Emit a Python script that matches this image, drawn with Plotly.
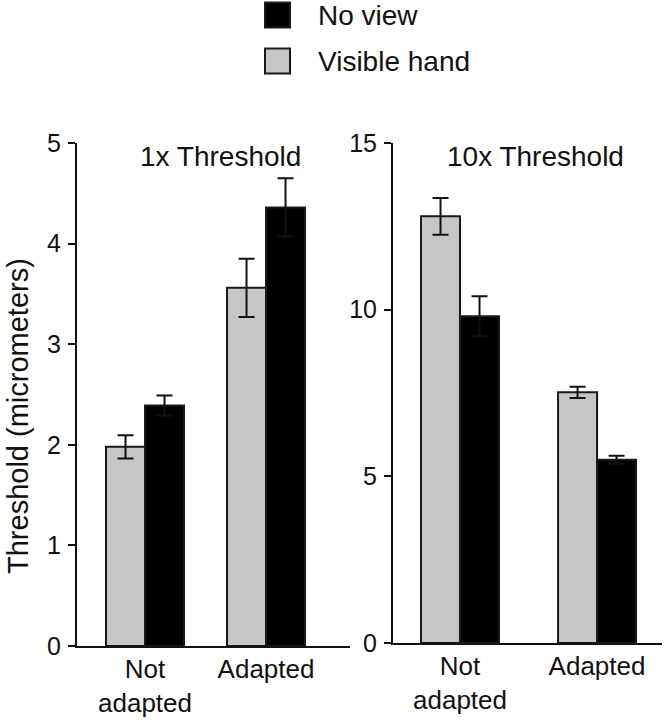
import plotly.graph_objects as go

categories = ["Not<br>adapted", "Adapted"]
x_pos = [0, 1]

# 1x threshold panel
vis_1x = [1.98, 3.56]
vis_1x_err = [0.115, 0.29]
nov_1x = [2.39, 4.36]
nov_1x_err = [0.10, 0.29]

# 10x threshold panel
vis_10x = [12.8, 7.52]
vis_10x_err = [0.55, 0.17]
nov_10x = [9.8, 5.5]
nov_10x_err = [0.6, 0.12]

series_names = ["No view", "Visible hand"]
gray = "#c6c6c6"
black = "#000000"
edge = "#1a1a1a"

W, H = 666, 720

def X(px):
    return px / W

def Y(py):
    return 1 - py / H

fig = go.Figure()

def bars(x, y, err, color, w, off, xa, ya, name):
    return go.Bar(
        x=x, y=y, width=[w]*len(x), offset=off, name=name,
        marker=dict(color=color, line=dict(color=edge, width=2)),
        error_y=dict(type="data", array=err, visible=True, color="#111111", thickness=2, width=8),
        xaxis=xa, yaxis=ya, showlegend=False,
    )

wl = 39 / 121
wr = 39 / 137
fig.add_trace(bars(x_pos, vis_1x, vis_1x_err, gray, wl, -wl, "x", "y", series_names[1]))
fig.add_trace(bars(x_pos, nov_1x, nov_1x_err, black, wl, 0, "x", "y", series_names[0]))
fig.add_trace(bars(x_pos, vis_10x, vis_10x_err, gray, wr, -wr, "x2", "y2", series_names[1]))
fig.add_trace(bars(x_pos, nov_10x, nov_10x_err, black, wr, 0, "x2", "y2", series_names[0]))

fam = "Liberation Sans, Arial, sans-serif"
txt = "#111111"
font = dict(family=fam, size=28, color=txt)
xtickfont = dict(family=fam, size=26, color=txt)
ytickfont = dict(family=fam, size=25, color=txt)

def yaxis(domain, rng, tickvals, anchor):
    return dict(domain=domain, range=rng, tickvals=tickvals, ticklen=7, ticks="outside",
                tickcolor=txt, tickwidth=2, showline=True, linecolor=txt, linewidth=2,
                showgrid=False, zeroline=False, tickfont=ytickfont, automargin=False,
                fixedrange=True, anchor=anchor, ticklabelstandoff=2)

def xaxis(domain, rng, anchor):
    return dict(domain=domain, range=rng, tickvals=x_pos, ticktext=categories, ticks="",
                showline=True, linecolor=txt, linewidth=2, showgrid=False, zeroline=False,
                tickfont=xtickfont, automargin=False, anchor=anchor, fixedrange=True,
                ticklabelstandoff=-1)

# legend (drawn as swatches + labels to match the large square keys)
legend_colors = [black, gray]
legend_rows = [15, 61]
shapes = []
annotations = []
for name, col, cy in zip(series_names, legend_colors, legend_rows):
    shapes.append(dict(type="rect", xref="paper", yref="paper",
                       x0=X(265), x1=X(290), y0=Y(cy - 12.5), y1=Y(cy + 12.5),
                       fillcolor=col, line=dict(color=edge, width=2)))
    annotations.append(dict(text=name, x=X(316), y=Y(cy), xref="paper", yref="paper",
                            showarrow=False, font=font, xanchor="left", yanchor="middle"))

annotations += [
    dict(text="1x Threshold", x=X(220), y=Y(156), xref="paper", yref="paper",
         showarrow=False, font=font, xanchor="center", yanchor="middle"),
    dict(text="10x Threshold", x=X(535), y=Y(156), xref="paper", yref="paper",
         showarrow=False, font=font, xanchor="center", yanchor="middle"),
    dict(text="Threshold (micrometers)", x=X(18), y=Y(416), xref="paper", yref="paper",
         showarrow=False, textangle=-90, font=dict(family=fam, size=29, color=txt),
         xanchor="center", yanchor="middle"),
]

fig.update_layout(
    width=W, height=H,
    margin=dict(l=0, r=0, t=0, b=0, autoexpand=False),
    paper_bgcolor="white", plot_bgcolor="white",
    font=font,
    barmode="overlay",
    showlegend=False,
    xaxis=xaxis([X(77), X(350)], [-0.562, 1.694], "y"),
    yaxis=yaxis([Y(646), Y(143)], [0, 5], [0, 1, 2, 3, 4, 5], "x"),
    xaxis2=xaxis([X(393), X(662)], [-0.489, 1.474], "y2"),
    yaxis2=yaxis([Y(643), Y(143)], [0, 15], [0, 5, 10, 15], "x2"),
    shapes=shapes,
    annotations=annotations,
)

# remove the browser's default 8px body margin so the figure fills the window
fig.write_html("out.html", config={"displayModeBar": False},
               post_script="document.body.style.margin='0px';")
